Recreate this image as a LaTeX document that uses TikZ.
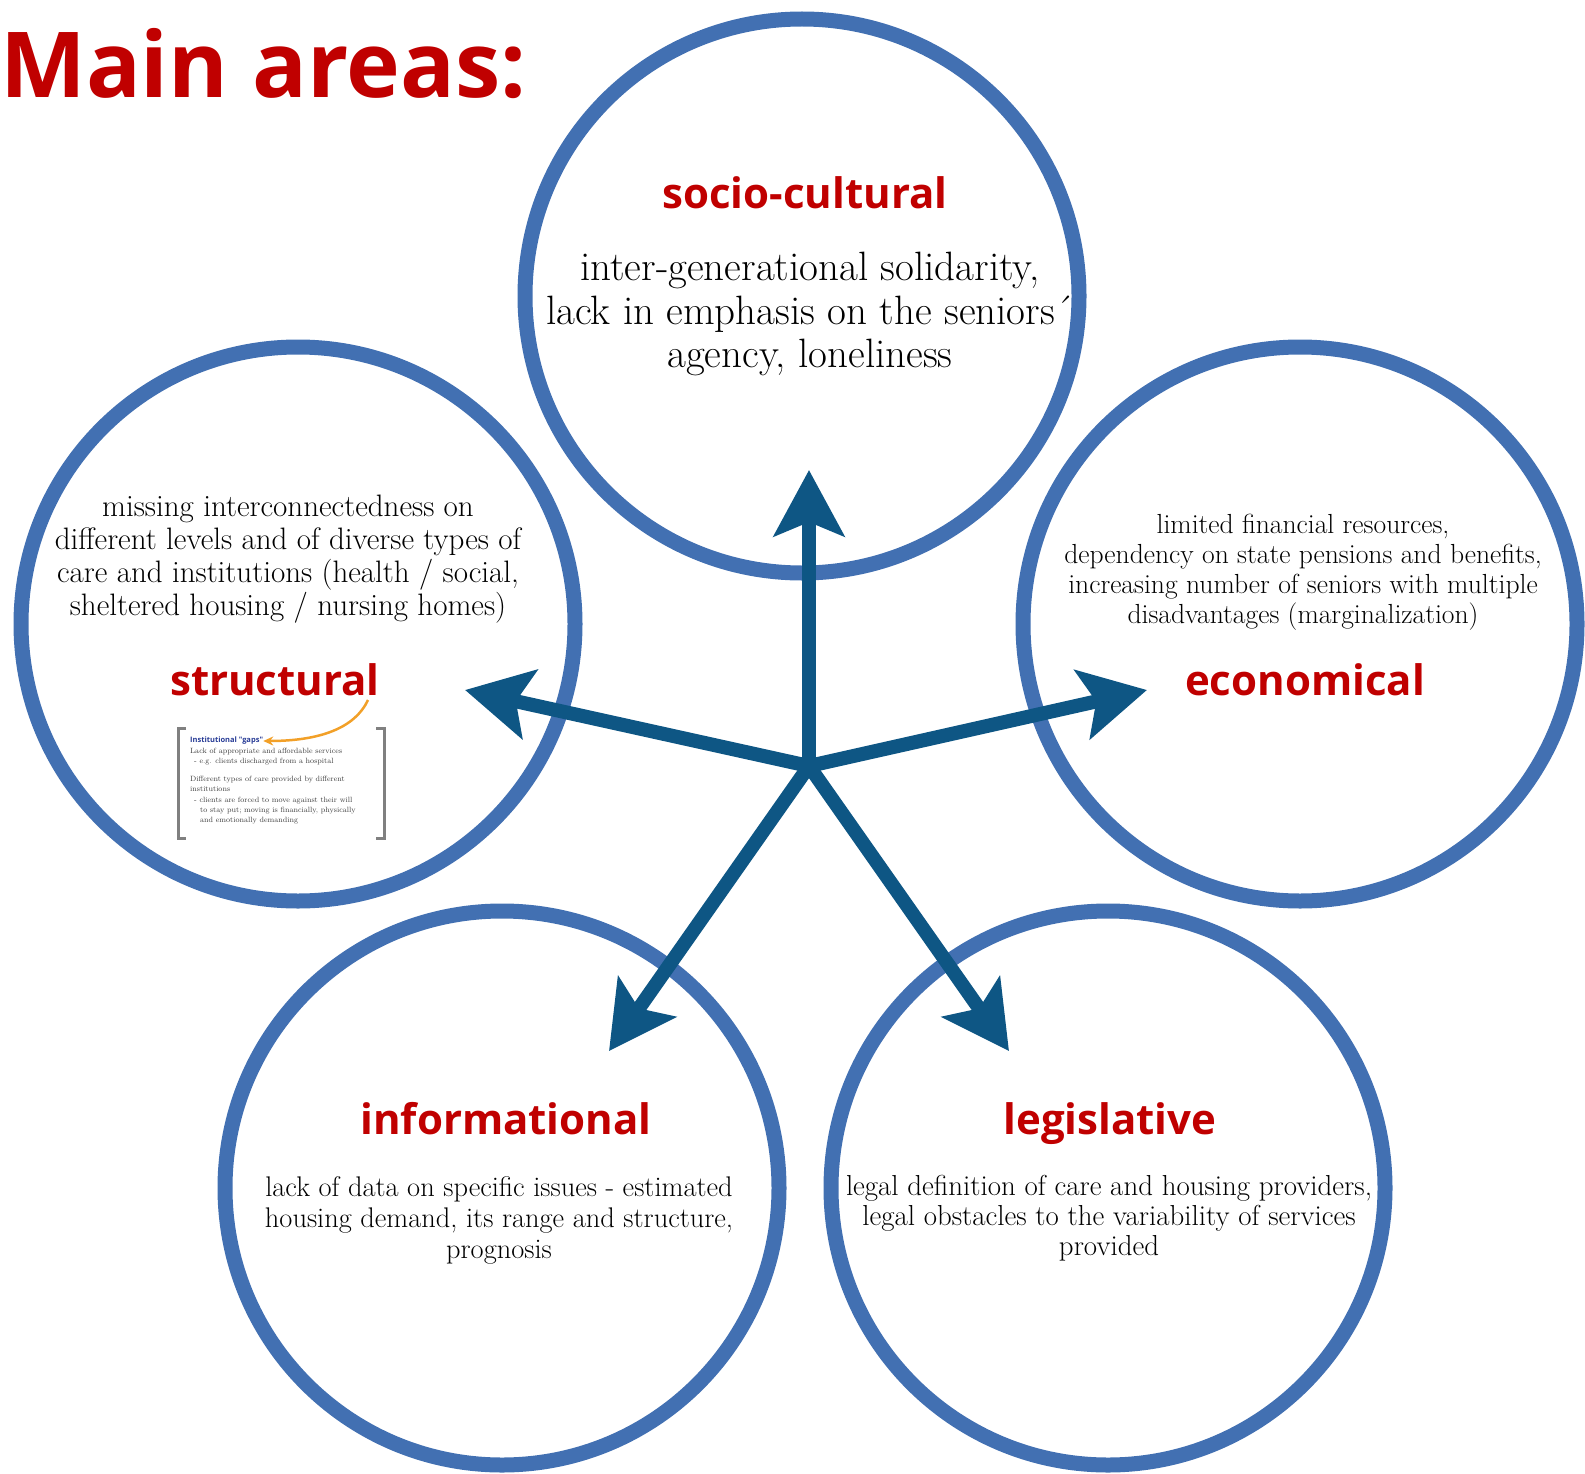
\documentclass[tikz,border=0pt]{standalone}
\usepackage{fontspec}
\newfontfamily\headfont{Open Sans}
\usetikzlibrary{arrows.meta}
\definecolor{ringblue}{RGB}{66,112,178}
\definecolor{spokeblue}{RGB}{14,86,132}
\definecolor{headred}{RGB}{192,0,0}
\definecolor{gapsblue}{RGB}{40,60,150}
\definecolor{gapsorange}{RGB}{242,160,40}

\begin{document}
\begin{tikzpicture}[x=1pt,y=-1pt,
  ring/.style={circle,draw=ringblue,line width=15pt,minimum size=554pt,inner sep=0pt},
  spoke/.style={draw=spokeblue,line width=14pt,line cap=round,-{Stealth[length=66pt,width=70pt,inset=14pt]}},
  head/.style={anchor=base,text=headred,font=\headfont\bfseries\fontsize{42}{50}\selectfont},
  note/.style={align=center,font=\fontsize{28.4}{31}\selectfont}]
\useasboundingbox (0,0) rectangle (1585,1474);
\coordinate (T) at (802,296);
\coordinate (L) at (298,624);
\coordinate (R) at (1300,624);
\coordinate (BL) at (502,1188);
\coordinate (BR) at (1108,1188);
\coordinate (hub) at (809,766);
\coordinate (up) at (809,470);
\coordinate (west) at (465,690);
\coordinate (east) at (1147,690);
\coordinate (sw) at (609,1051);
\coordinate (se) at (1009,1051);
% circles
\node[ring] (socio) at (T){};
\node[ring] (struct) at (L){};
\node[ring] (econ) at (R){};
\node[ring] (info) at (BL){};
\node[ring] (legis) at (BR){};
% arrows
\draw[spoke] (hub) -- (up);
\draw[spoke] (hub) -- (west);
\draw[spoke] (hub) -- (east);
\draw[spoke] (hub) -- (sw);
\draw[spoke] (hub) -- (se);
% title
\node[anchor=base west,text=headred,font=\headfont\bfseries\fontsize{91}{105}\selectfont,inner sep=0pt] (title) at (0,98) {Main areas:};
% texts
\node[head] (sociohead) at (805,209) {socio-cultural};
\node[note,font=\fontsize{41}{43.5}\selectfont] (sociotext) at (810,314) {inter-generational solidarity,\\lack in emphasis on the seniors´\\agency, loneliness};
\node[note,font=\fontsize{31}{33}\selectfont] (structtext) at (288,559) {missing interconnectedness on\\different levels and of diverse types of\\care and institutions (health / social,\\sheltered housing / nursing homes)};
\node[head] (structhead) at (275,695) {structural};
\node[note,font=\fontsize{27.6}{30}\selectfont] (econtext) at (1303,572) {limited financial resources,\\dependency on state pensions and benefits,\\increasing number of seniors with multiple\\disadvantages (marginalization)};
\node[head] (econhead) at (1305,695) {economical};
\node[head] (infohead) at (506,1134) {informational};
\node[note] (infotext) at (499,1220) {lack of data on specific issues - estimated\\housing demand, its range and structure,\\prognosis};
\node[head] (legishead) at (1110,1134) {legislative};
\node[note,font=\fontsize{28.9}{30}\selectfont] (legistext) at (1109,1218) {legal definition of care and housing providers,\\legal obstacles to the variability of services\\provided};
% small slide
\draw[gray,line width=3pt] (186,728) -- (178,728) -- (178,838) -- (186,838);
\draw[gray,line width=3pt] (376,728) -- (384,728) -- (384,838) -- (376,838);
\node[anchor=west,inner sep=0pt,text=gapsblue,font=\headfont\bfseries\fontsize{7.5}{9}\selectfont] (gapstitle) at (190,741) {Institutional "gaps"};
\node[anchor=north west,inner sep=0pt,align=left,text=black!75,font=\fontsize{7.6}{10.4}\selectfont] (gapsbody) at (190,748) {Lack of appropriate and affordable services\\\hspace*{4pt}- e.g. clients discharged from a hospital\\[7pt]Different types of care provided by different\\institutions\\\hspace*{4pt}- clients are forced to move against their will\\\hspace*{10pt}to stay put; moving is financially, physically\\\hspace*{10pt}and emotionally demanding};
\coordinate (gapsfrom) at (368,700);
\draw[gapsorange,line width=2.5pt,-{Stealth[length=10pt,width=9pt]}] (gapsfrom) .. controls (355,728) and (320,741) .. (gapstitle.east);
\end{tikzpicture}
\end{document}
